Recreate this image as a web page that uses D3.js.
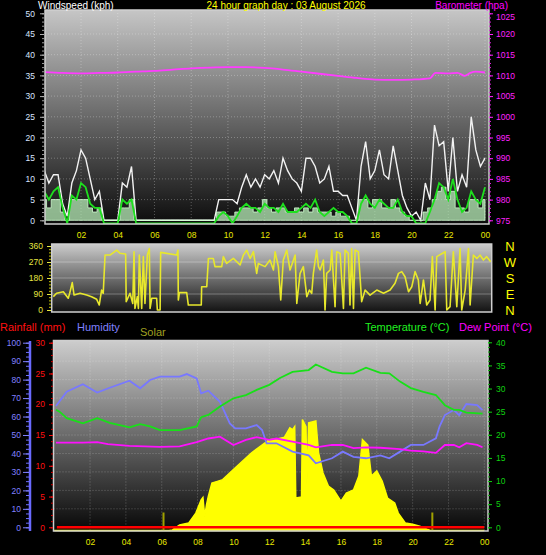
<!DOCTYPE html>
<html><head><meta charset="utf-8">
<script src="https://cdn.jsdelivr.net/npm/d3@7"></script>
<style>
body{margin:0;background:#000;}
svg{display:block;font-family:"Liberation Sans",Arial,sans-serif;}
</style>
</head><body>
<svg id="c" width="546" height="555"></svg>
<script>
// ---------- DATA ----------
const titleText = "24 hour graph day : 03 August 2026";
const hourLabels = [2,4,6,8,10,12,14,16,18,20,22,24];

// wind, 15-minute samples from 00:00 to 24:00 (kph)
const windStep = 0.25;
const windGust = [
 12,9,11,11, 4,1,9,12, 17,15,10,5, 7,0,0,0, 0,9,8,13,
 0,0,0,0, 0,0,0,0, 0,0,0,0, 0,0,0,0, 0,0,5,5,
 5,5,4,8, 11,8,10,8, 11,10,12,9, 15,12,10,9, 7,15,15,13,
 9,10,13,7, 7,6,6,3, 0,13,19,10, 12,17,11,10, 18,12,6,3,
 1,2,0,9, 5,23,18,19, 7,20,7,11, 8,25,17,13, 15];
const windAvg = [
 7,5,7,8, 3,0,6,5, 9,8,4,3, 3,0,0,0, 0,5,4,5,
 0,0,0,0, 0,0,0,0, 0,0,0,0, 0,0,0,0, 0,0,1,2,
 1,0,1,3, 4,3,3,2, 4,3,3,2, 4,2,2,2, 3,4,3,5,
 2,1,2,3, 2,2,1,0, 0,4,6,4, 3,5,4,3, 3,5,2,1,
 1,0,0,0, 2,5,9,8, 5,10,5,2, 3,7,5,4, 8];
const windSpeed = [
 5,3,5,5, 2,0,5,5, 5,5,3,2, 3,0,0,0, 0,3,3,5,
 0,0,0,0, 0,0,0,0, 0,0,0,0, 0,0,0,0, 0,0,2,2,
 1,1,2,3, 3,3,2,3, 5,3,2,3, 3,2,2,3, 2,3,2,3,
 2,2,2,1, 2,1,1,0, 0,5,5,3, 5,5,3,3, 5,3,2,1,
 0,0,0,2, 3,5,7,8, 5,7,3,3, 2,5,5,3, 5];

// barometer (hPa)
const baroHours  = [0,1,2,3,4,5,6,7,8,9,10,11,12,13,14,15,16,17,18,19,20,21,21.3,22,22.5,22.9,23.2,23.5,24];
const baroValues = [1010.8,1010.6,1010.5,1010.6,1010.7,1010.9,1011.1,1011.4,1011.7,1011.9,1012.0,1012.0,1011.8,1011.4,1010.9,1010.4,1009.9,1009.4,1009.0,1008.9,1009.0,1009.3,1010.6,1010.5,1010.6,1009.9,1010.6,1010.9,1010.7];

// wind direction (degrees)
const dirHours = [0,0.18,0.55,0.82,0.9,1.04,1.14,1.47,1.83,2.1,2.38,2.52,2.65,2.74,2.84,3.11,3.48,3.66,3.97,4.0,4.21,4.36,4.43,4.48,4.61,4.67,4.72,4.85,4.94,5.03,5.16,5.27,5.31,5.4,5.67,5.71,5.86,5.89,6.77,6.84,6.86,6.92,7.32,7.41,8.12,8.14,8.42,8.51,8.78,8.87,9.24,9.33,9.51,9.88,10.25,10.43,10.61,10.8,10.98,11.16,11.25,11.62,11.89,12.08,12.17,12.35,12.48,12.62,12.81,12.99,13.27,13.36,13.54,13.72,13.91,14.05,14.18,14.27,14.45,14.55,14.64,14.82,14.91,15.0,15.19,15.28,15.46,15.55,15.74,15.92,16.01,16.19,16.28,16.37,16.47,16.56,16.74,16.92,17.11,17.38,17.75,18.12,18.48,18.75,18.94,19.12,19.3,19.49,19.67,19.85,20.03,20.13,20.31,20.49,20.67,20.8,20.95,21.04,21.5,21.59,21.77,21.95,22.14,22.32,22.41,22.6,22.78,22.87,23.05,23.24,23.42,23.6,23.78,24.0];
const dirValues = [75,94,103,66,94,154,84,94,84,75,60,28,112,94,309,309,337,319,315,47,94,37,328,9,75,9,309,9,300,37,309,346,9,66,66,0,0,324,309,337,56,98,98,28,28,131,131,290,290,244,244,300,262,290,253,309,337,290,328,206,262,244,281,225,328,244,56,281,337,225,309,37,206,244,75,112,94,206,337,244,225,281,0,206,225,337,19,328,319,9,337,319,28,346,9,337,328,47,112,84,112,94,112,150,206,216,187,103,131,216,169,37,169,28,56,300,0,300,328,0,19,328,19,346,0,112,346,28,309,290,309,281,300,272];
const compassLabels = ["N","W","S","E","N"];
const compassDegrees = [360,270,180,90,0];

// humidity (%)
const humHours  = [0.1,0.7,1.6,2.4,3.1,4.2,4.8,5.35,5.9,7.0,7.4,7.95,8.2,8.6,9.25,9.8,10.1,10.7,11.3,11.6,11.85,12.4,13.3,14.2,14.6,15.5,16.1,16.7,17.4,18.2,18.7,19.3,19.9,20.6,21.3,21.5,21.8,22.3,22.6,23.0,23.6,23.9];
const humValues = [65.7,73.5,77.5,73,75.6,79.4,75.3,79.8,81.6,81.6,83,80.7,72.6,74,68,56.3,53.6,53.6,55.4,52.7,45.5,45.5,41,39,34.7,37.4,41,38.2,37.4,39,37.4,41,44.6,44.6,48.2,54.5,60.8,63.5,60.8,66.8,66.2,63.5];

// temperature (°C)
const tempHours  = [0.1,0.3,0.7,1.6,2.4,3.1,4.2,4.8,5.35,5.9,7.0,7.95,8.2,8.6,9.25,10,10.7,11.3,12.0,12.6,13.3,14.2,14.6,15.5,16.1,16.7,17.4,18.2,18.7,19.3,19.9,20.6,21.3,21.8,22.3,22.6,23.0,23.9];
const tempValues = [25.4,25.0,23.6,22.5,23.6,22.6,21.6,22.3,21.8,21.0,21.0,21.8,23.8,24.3,26.1,27.9,28.6,29.7,30.8,32.3,33.6,34.0,35.2,33.6,33.3,33.3,34.5,33.4,33.3,31.5,30.1,29.3,28.6,26.4,25.4,25.4,24.8,24.6];

// dew point (°C)
const dewHours  = [0.1,1.6,2.4,3.0,4.2,5.9,7.0,7.95,8.6,9.25,10.0,10.7,11.3,12.0,12.4,13.3,14.2,14.6,15.5,16.1,16.7,17.4,18.2,19.3,19.9,20.6,21.3,21.8,22.3,22.6,23.0,23.6,23.9];
const dewValues = [18.3,18.3,18.4,18.0,17.6,17.4,17.5,18.4,19.2,19.6,17.8,18.9,19.5,18.9,19.2,18.5,17.8,17.3,17.8,17.8,17.1,17.3,17.2,16.9,16.6,16.4,16.1,17.8,17.8,17.3,18.2,17.8,17.3];

// solar radiation (W/m²)
const solarHours  = [0,6.4,6.6,7.0,7.5,7.9,8.2,8.3,8.4,8.5,8.6,8.8,9.1,9.4,10.0,10.5,11.0,11.5,12.0,12.5,12.85,13.15,13.3,13.42,13.48,13.8,13.85,14.05,14.1,14.2,14.6,14.75,15.0,15.3,15.6,16.0,16.3,16.7,17.0,17.2,17.5,17.7,18.0,18.3,18.6,19.0,19.2,19.6,20.0,20.4,20.8,21.0,24];
const solarValues = [0,0,3,30,40,94,165,178,76,140,184,256,265,274,328,373,418,454,490,495,503,553,544,560,175,180,598,560,250,580,591,420,310,240,218,158,202,218,294,490,461,294,321,267,175,148,94,40,34,23,7,0,0];
const sunEvents = [6.1, 21.1];

// rainfall (mm)
const rainHours  = [0.15, 24];
const rainValues = [0, 0];

// ---------- CHART ----------
const svg = d3.select("#c");
const defs = svg.append("defs");

function grad(id, y1, y2, c1, c2){
  const g = defs.append("linearGradient").attr("id", id)
    .attr("gradientUnits","userSpaceOnUse").attr("x1",0).attr("x2",0).attr("y1",y1).attr("y2",y2);
  g.append("stop").attr("offset",0).attr("stop-color",c1);
  g.append("stop").attr("offset",1).attr("stop-color",c2);
}
function clip(id, x, y, w, h){
  defs.append("clipPath").attr("id", id).append("rect").attr("x",x).attr("y",y).attr("width",w).attr("height",h);
}

// panel boxes
const P1 = {x0:45, x1:489, y0:10, y1:224};
const P2 = {x0:51.7, x1:491.7, y0:244, y1:312};
const P3 = {x0:53.5, x1:488, y0:340.5, y1:531};

grad("g1", P1.y0, P1.y1, "#c6c6c6", "#0c0c0c");
grad("g2", P2.y0, P2.y1, "#cccccc", "#121212");
grad("g3", P3.y0, P3.y1, "#cdcdcd", "#070707");
clip("c1", P1.x0, P1.y0, P1.x1-P1.x0, P1.y1-P1.y0);
clip("c2", P2.x0, P2.y0, P2.x1-P2.x0, P2.y1-P2.y0);
clip("c3", P3.x0, P3.y0, P3.x1-P3.x0, P3.y1-P3.y0+2);

// scales
const xTop = d3.scaleLinear().domain([0,24]).range([44.3,485]);
const yWind = d3.scaleLinear().domain([0,50]).range([220.3,13.3]);
const yBaro = d3.scaleLinear().domain([975,1025]).range([220.3,13.3]);
const xDir = d3.scaleLinear().domain([0,24]).range([53.3,490.7]);
const yDir = d3.scaleLinear().domain([0,360]).range([310,246]);
const xBot = d3.scaleLinear().domain([0,24]).range([54.2,484.3]);
const yHum = d3.scaleLinear().domain([0,100]).range([527.3,342.7]);
const yRain = d3.scaleLinear().domain([0,30]).range([527.3,342.7]);
const yTemp = d3.scaleLinear().domain([0,40]).range([527.3,342.3]);
const ySolar = d3.scaleLinear().domain([0,1000]).range([530.5,345]);

function panel(P, gid){
  svg.append("rect").attr("x",P.x0).attr("y",P.y0).attr("width",P.x1-P.x0).attr("height",P.y1-P.y0).attr("fill",`url(#${gid})`);
}
function frame(P){
  svg.append("rect").attr("x",P.x0).attr("y",P.y0).attr("width",P.x1-P.x0).attr("height",P.y1-P.y0)
    .attr("fill","none").attr("stroke","#cfcfcf").attr("stroke-width",1.5);
}
const gridStyle = s => s.attr("stroke","rgba(255,255,255,0.28)").attr("stroke-width",1).attr("stroke-dasharray","1,2");

// ===== Panel 1: wind & barometer =====
panel(P1, "g1");
const g1 = svg.append("g").attr("clip-path","url(#c1)");
g1.selectAll("line.h").data(d3.range(5,50,5)).join("line")
  .attr("x1",P1.x0).attr("x2",P1.x1).attr("y1",d=>yWind(d)).attr("y2",d=>yWind(d)).call(gridStyle);
g1.selectAll("line.v").data(hourLabels).join("line")
  .attr("x1",d=>xTop(d)).attr("x2",d=>xTop(d)).attr("y1",P1.y0).attr("y2",P1.y1).call(gridStyle);

const wIdx = windGust.map((_,i)=>i*windStep);
g1.append("path").datum(windGust)
  .attr("d", d3.line().x((d,i)=>xTop(wIdx[i])).y(d=>yWind(d)))
  .attr("fill","none").attr("stroke","#f2f2f2").attr("stroke-width",1.4);
g1.append("path").datum(windSpeed)
  .attr("d", d3.area().curve(d3.curveStep).x((d,i)=>xTop(wIdx[i])).y0(yWind(0)).y1(d=>yWind(d)))
  .attr("fill","rgba(190,245,190,0.72)").attr("stroke","rgba(210,255,210,0.8)").attr("stroke-width",1);
g1.append("path").datum(windAvg)
  .attr("d", d3.line().x((d,i)=>xTop(wIdx[i])).y(d=>yWind(d)+ (d===0?3:0)))
  .attr("fill","none").attr("stroke","#1ee01e").attr("stroke-width",1.8);
g1.append("path").datum(baroValues)
  .attr("d", d3.line().curve(d3.curveMonotoneX).x((d,i)=>xTop(baroHours[i])).y(d=>yBaro(d)))
  .attr("fill","none").attr("stroke","#ff3cff").attr("stroke-width",1.8);
frame(P1);

// axes panel 1
function styleAxis(g, color, fs){
  g.select(".domain").remove();
  g.selectAll("line").attr("stroke",color);
  g.selectAll("text").attr("fill",color).attr("font-size",fs).attr("font-family","Liberation Sans, Arial, sans-serif");
}
svg.append("g").attr("transform","translate(44,0)")
  .call(d3.axisLeft(yWind).tickValues(d3.range(0,51,1)).tickSize(2).tickFormat(""))
  .call(g=>styleAxis(g,"#9a9a9a",8));
svg.append("g").attr("transform","translate(44,0)")
  .call(d3.axisLeft(yWind).tickValues(d3.range(0,51,5)).tickSize(4).tickPadding(5))
  .call(g=>{styleAxis(g,"#d8e4ff",8.5); g.selectAll("line").attr("stroke","#b0b0b0");});
svg.append("g").attr("transform","translate(489,0)")
  .call(d3.axisRight(yBaro).tickValues(d3.range(975,1026,1)).tickSize(2).tickFormat(""))
  .call(g=>styleAxis(g,"#e020e0",8));
svg.append("g").attr("transform","translate(489,0)")
  .call(d3.axisRight(yBaro).tickValues(d3.range(975,1026,5)).tickSize(4).tickPadding(3).tickFormat(d3.format("d")))
  .call(g=>{
    styleAxis(g,"#ff20ff",8.5);
    // nudge the top label a little below the panel title
    g.selectAll(".tick").filter(d=>d===1025).select("text").attr("y",3.2);
  });
svg.append("g").attr("transform","translate(0,229)")
  .call(d3.axisBottom(xTop).tickValues(hourLabels).tickSize(0).tickPadding(3).tickFormat(d=>d3.format("02")(d%24)))
  .call(g=>styleAxis(g,"#e8e800",8.5));

// titles
svg.append("text").attr("x",38).attr("y",9.2).attr("fill","#ffffff").attr("font-size",10).text("Windspeed (kph)");
svg.append("text").attr("x",286).attr("y",9.2).attr("text-anchor","middle").attr("fill","#ffff00").attr("font-size",10).text(titleText);
svg.append("text").attr("x",508).attr("y",9.2).attr("text-anchor","end").attr("fill","#ff00ff").attr("font-size",10).text("Barometer (hpa)");

// ===== Panel 2: wind direction =====
panel(P2, "g2");
const g2 = svg.append("g").attr("clip-path","url(#c2)");
g2.selectAll("line.h").data([90,180,270]).join("line")
  .attr("x1",P2.x0).attr("x2",P2.x1).attr("y1",d=>yDir(d)).attr("y2",d=>yDir(d))
  .attr("stroke","rgba(255,255,255,0.3)").attr("stroke-width",1);
g2.append("path").datum(dirValues)
  .attr("d", d3.line().x((d,i)=>xDir(dirHours[i])).y(d=>yDir(d)))
  .attr("fill","none").attr("stroke","#e8e82c").attr("stroke-width",1.6).attr("stroke-linejoin","round");
frame(P2);
svg.append("g").attr("transform","translate(51,0)")
  .call(d3.axisLeft(yDir).tickValues(d3.range(0,361,18)).tickSize(2).tickFormat(""))
  .call(g=>styleAxis(g,"#c8c800",8));
svg.append("g").attr("transform","translate(51,0)")
  .call(d3.axisLeft(yDir).tickValues([0,90,180,270,360]).tickSize(4).tickPadding(4))
  .call(g=>styleAxis(g,"#e6e640",8.5));
svg.selectAll("text.compass").data(compassLabels).join("text")
  .attr("x",510).attr("y",(d,i)=>yDir(compassDegrees[i])).attr("dy","0.36em")
  .attr("text-anchor","middle").attr("fill","#ffff00").attr("font-size",13).text(d=>d);

// ===== Panel 3: temperature etc. =====
svg.append("text").attr("x",0).attr("y",331).attr("fill","#ff1010").attr("font-size",11).text("Rainfall (mm)");
svg.append("text").attr("x",77).attr("y",331).attr("fill","#8080ff").attr("font-size",11).text("Humidity");
svg.append("text").attr("x",140).attr("y",335.5).attr("fill","#a0a020").attr("font-size",11).text("Solar");
svg.append("text").attr("x",365).attr("y",331).attr("fill","#20f020").attr("font-size",11).text("Temperature (°C)");
svg.append("text").attr("x",459).attr("y",331).attr("fill","#ff00ff").attr("font-size",11).text("Dew Point (°C)");

panel(P3, "g3");
const g3 = svg.append("g").attr("clip-path","url(#c3)");
g3.selectAll("line.h").data(d3.range(10,100,10)).join("line")
  .attr("x1",P3.x0).attr("x2",P3.x1).attr("y1",d=>yHum(d)).attr("y2",d=>yHum(d)).call(gridStyle);
g3.selectAll("line.v").data(hourLabels).join("line")
  .attr("x1",d=>xBot(d)).attr("x2",d=>xBot(d)).attr("y1",P3.y0).attr("y2",P3.y1).call(gridStyle);

g3.append("path").datum(solarValues)
  .attr("d", d3.area().x((d,i)=>xBot(solarHours[i])).y0(ySolar(0)).y1(d=>ySolar(d)))
  .attr("fill","#ffff00").attr("stroke","#ffff00").attr("stroke-width",1.5);
g3.selectAll("line.sun").data(sunEvents).join("line")
  .attr("x1",d=>xBot(d)).attr("x2",d=>xBot(d)).attr("y1",ySolar(0)).attr("y2",ySolar(0)-18)
  .attr("stroke","#a0a000").attr("stroke-width",2);
const lineOf = (hrs, ys) => d3.line().x((d,i)=>xBot(hrs[i])).y(d=>ys(d));
g3.append("path").datum(humValues).attr("d", lineOf(humHours, yHum))
  .attr("fill","none").attr("stroke","#7878ff").attr("stroke-width",1.8);
g3.append("path").datum(tempValues).attr("d", lineOf(tempHours, yTemp))
  .attr("fill","none").attr("stroke","#18e018").attr("stroke-width",1.8);
g3.append("path").datum(dewValues).attr("d", lineOf(dewHours, yTemp))
  .attr("fill","none").attr("stroke","#ff10ff").attr("stroke-width",1.8);
g3.append("path").datum(rainValues).attr("d", lineOf(rainHours, yRain))
  .attr("fill","none").attr("stroke","#ff0000").attr("stroke-width",2.6);
frame(P3);

// humidity axis
svg.append("line").attr("x1",30).attr("x2",30).attr("y1",341).attr("y2",531).attr("stroke","#6a6aff").attr("stroke-width",2.5);
svg.append("g").attr("transform","translate(29,0)")
  .call(d3.axisLeft(yHum).tickValues(d3.range(0,101,2.5)).tickSize(3).tickFormat(""))
  .call(g=>styleAxis(g,"#7070ff",8));
svg.append("g").attr("transform","translate(29,0)")
  .call(d3.axisLeft(yHum).tickValues(d3.range(0,101,10)).tickSize(6).tickPadding(2))
  .call(g=>styleAxis(g,"#8080ff",8.5));
// rain axis
svg.append("g").attr("transform","translate(53,0)")
  .call(d3.axisLeft(yRain).tickValues(d3.range(0,31,1)).tickSize(2).tickFormat(""))
  .call(g=>styleAxis(g,"#d00000",8));
svg.append("g").attr("transform","translate(53,0)")
  .call(d3.axisLeft(yRain).tickValues(d3.range(0,31,5)).tickSize(4).tickPadding(4))
  .call(g=>styleAxis(g,"#ff1010",8.5));
// temperature axis
svg.append("g").attr("transform","translate(488,0)")
  .call(d3.axisRight(yTemp).tickValues(d3.range(0,41,1)).tickSize(2).tickFormat(""))
  .call(g=>styleAxis(g,"#10b010",8));
svg.append("g").attr("transform","translate(488,0)")
  .call(d3.axisRight(yTemp).tickValues(d3.range(0,41,5)).tickSize(4).tickPadding(4))
  .call(g=>styleAxis(g,"#10d010",8.5));
svg.append("g").attr("transform","translate(0,536)")
  .call(d3.axisBottom(xBot).tickValues(hourLabels).tickSize(0).tickPadding(3).tickFormat(d=>d3.format("02")(d%24)))
  .call(g=>styleAxis(g,"#e8e800",8.5));
</script>
</body></html>
